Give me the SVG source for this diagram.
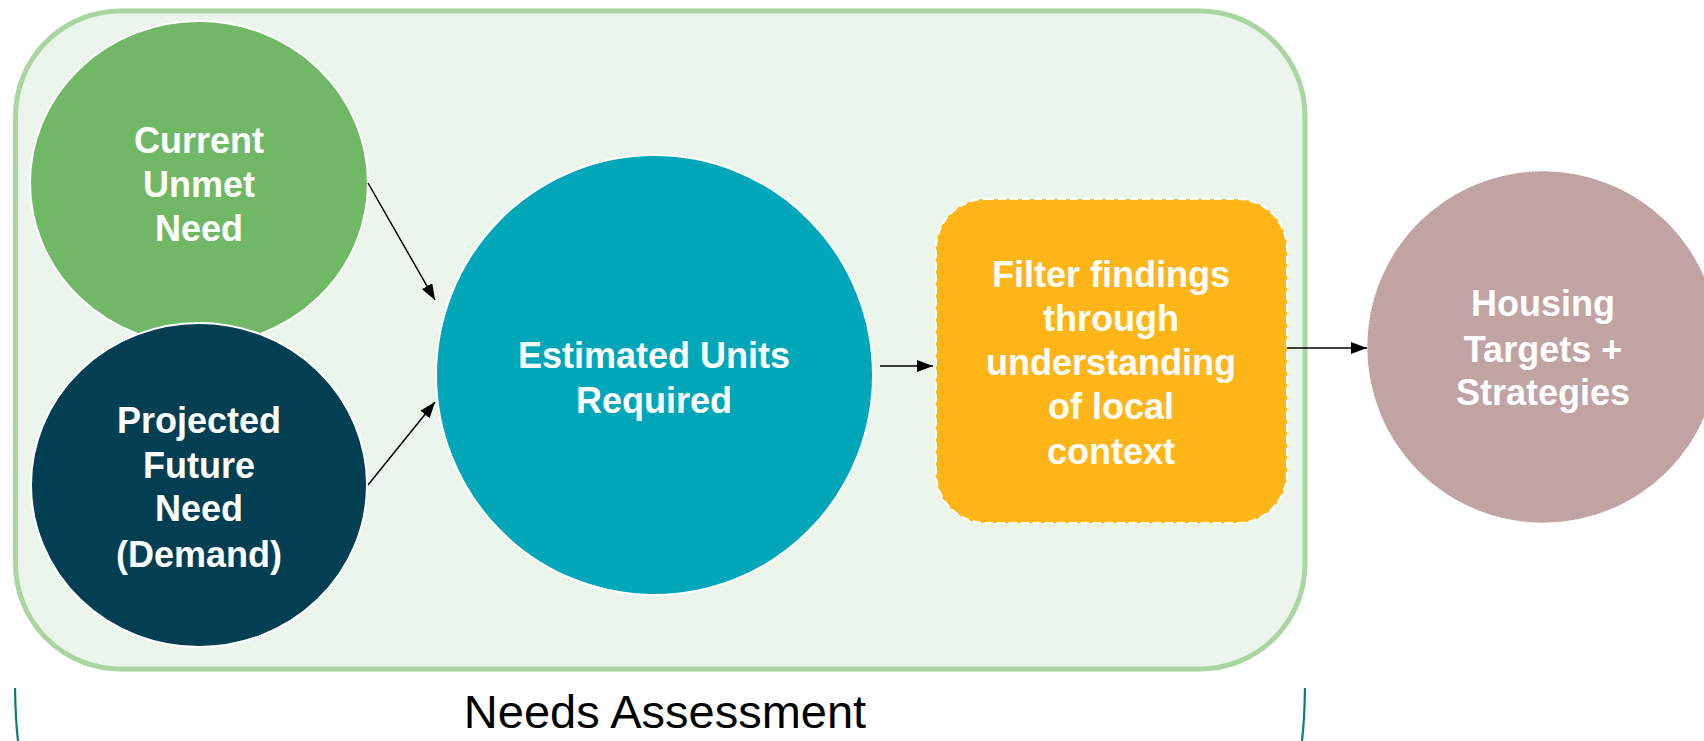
<svg xmlns="http://www.w3.org/2000/svg" width="1704" height="741" viewBox="0 0 1704 741">
  <defs>
    <marker id="arrow" viewBox="0 0 16 12" refX="16" refY="6" markerWidth="16" markerHeight="12" markerUnits="userSpaceOnUse" orient="auto">
      <path d="M0,0 L16,6 L0,12 z" fill="#000"/>
    </marker>
    <style>
      .lbl { font-family: "Liberation Sans", Arial, sans-serif; font-weight: bold; font-size: 36px; fill: #ffffff; text-anchor: middle; }
      .conn { stroke: #000; stroke-width: 1.5; fill: none; marker-end: url(#arrow); }
      .bracket { stroke: #0E7A7C; stroke-width: 2.2; fill: none; }
    </style>
  </defs>
  <rect width="1704" height="741" fill="#ffffff"/>

  <g id="needs-assessment-frame">
    <rect x="15.5" y="11" width="1289.5" height="658" rx="105" ry="105" fill="#EBF5EC" stroke="#A9D5A1" stroke-width="5"/>
  </g>

  <g id="current-unmet-need">
    <ellipse cx="199" cy="183" rx="169" ry="162" fill="#71B866" stroke="#ffffff" stroke-width="2"/>
    <text class="lbl" x="199" y="153">Current</text>
    <text class="lbl" x="199" y="197">Unmet</text>
    <text class="lbl" x="199" y="241">Need</text>
  </g>

  <g id="projected-future-need">
    <ellipse cx="199" cy="485" rx="168" ry="162" fill="#023F52" stroke="#ffffff" stroke-width="2"/>
    <text class="lbl" x="199" y="433">Projected</text>
    <text class="lbl" x="199" y="478">Future</text>
    <text class="lbl" x="199" y="521">Need</text>
    <text class="lbl" x="199" y="567">(Demand)</text>
  </g>

  <g id="estimated-units">
    <ellipse cx="654.5" cy="375" rx="218.5" ry="220" fill="#02A6B9" stroke="#ffffff" stroke-width="2"/>
    <text class="lbl" x="654" y="368">Estimated Units</text>
    <text class="lbl" x="654" y="413">Required</text>
  </g>

  <g id="filter-findings">
    <rect x="936" y="199" width="351" height="324" rx="50" ry="50" fill="#FDB517" stroke="#ffffff" stroke-width="2" stroke-dasharray="8 4"/>
    <text class="lbl" x="1111" y="287">Filter findings</text>
    <text class="lbl" x="1111" y="331">through</text>
    <text class="lbl" x="1111" y="375">understanding</text>
    <text class="lbl" x="1111" y="419">of local</text>
    <text class="lbl" x="1111" y="464">context</text>
  </g>

  <g id="housing-targets">
    <circle cx="1543" cy="347" r="176" fill="#C1A3A4" stroke="#ffffff" stroke-width="1" stroke-dasharray="2 1"/>
    <text class="lbl" x="1543" y="316">Housing</text>
    <text class="lbl" x="1543" y="362">Targets +</text>
    <text class="lbl" x="1543" y="405">Strategies</text>
  </g>

  <g id="connectors">
    <line class="conn" x1="368" y1="183" x2="435" y2="300"/>
    <line class="conn" x1="368" y1="485" x2="435" y2="402"/>
    <line class="conn" x1="880" y1="366" x2="933" y2="366"/>
    <line class="conn" x1="1287" y1="348" x2="1367" y2="348"/>
  </g>

  <g id="needs-assessment-label">
    <path class="bracket" d="M15,688 Q15.5,720 18,741"/>
    <path class="bracket" d="M1305,688 Q1304.5,720 1302,741"/>
    <text x="665" y="728" font-family="'Liberation Sans', Arial, sans-serif" font-size="47" fill="#000000" text-anchor="middle">Needs Assessment</text>
  </g>
</svg>
